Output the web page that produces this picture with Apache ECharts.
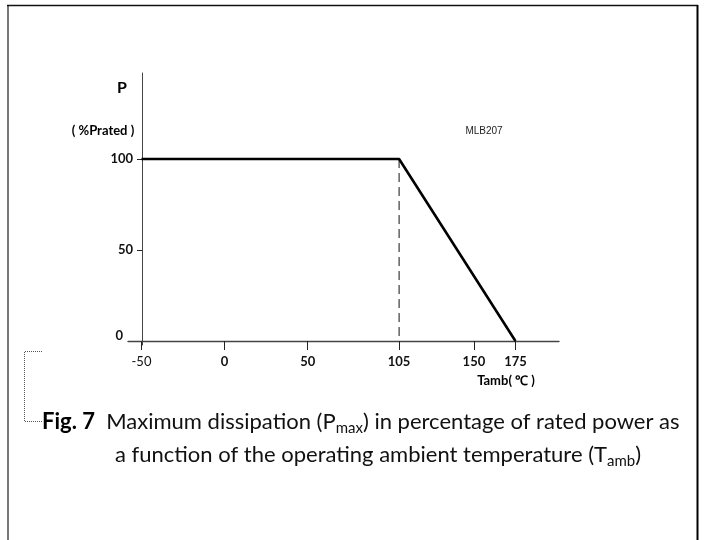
<!DOCTYPE html>
<html>
<head>
<meta charset="utf-8">
<script src="https://cdn.jsdelivr.net/npm/echarts@6/dist/echarts.min.js"></script>
<style>
html,body{margin:0;padding:0;background:#fff;}
#c{width:704px;height:540px;}
</style>
</head>
<body>
<div id="c"></div>
<script>
// ---- data ----
var temps = [-50, 105, 175];          // Tamb (°C)
var power = [100, 100, 0];            // P (% Prated)
var kneeTemp = 105;                   // dashed marker
var kneeLine = [100, 0];
var xTicks = [-50, 0, 50, 105, 150, 175];
var yTicks = [0, 50, 100];
var yTickMarks = [50, 100];

var curve = temps.map(function (t, i) { return [t, power[i]]; });
var dashed = kneeLine.map(function (p) { return [kneeTemp, p]; });

var chart = echarts.init(document.getElementById('c'), null, {renderer: 'canvas'});
var lblFont = 'Lato, "Open Sans", sans-serif';
var capFont = 'Lato, "Open Sans", sans-serif';

chart.setOption({
  animation: false,
  backgroundColor: '#fff',
  grid: {left: 128, width: 431, top: 73, height: 272, containLabel: false},
  xAxis: {
    type: 'value', min: -58.1, max: 201.2,
    splitLine: {show: false},
    axisLine: {onZero: true, lineStyle: {color: '#444', width: 1.3}},
    axisTick: {show: true, inside: false, length: 9, customValues: xTicks, lineStyle: {color: '#222', width: 1}},
    axisLabel: {
      customValues: xTicks, margin: 10,
      formatter: function (v) { return v === -50 ? '{n|-50}' : '{b|' + v + '}'; },
      rich: {
        n: {fontFamily: lblFont, fontSize: 13, fontWeight: 400, color: '#111'},
        b: {fontFamily: lblFont, fontSize: 13, fontWeight: 'bold', color: '#111'}
      }
    }
  },
  yAxis: {
    type: 'value', min: -2.2, max: 147.3, offset: -14,
    splitLine: {show: false},
    axisLine: {show: true, onZero: false, lineStyle: {color: '#444', width: 1}},
    axisTick: {show: true, length: 5, customValues: yTickMarks, lineStyle: {color: '#222', width: 1}},
    axisLabel: {
      customValues: yTicks, margin: 9,
      formatter: function (v) { return v === 0 ? '{z|0}' : '{b|' + v + '}'; },
      rich: {
        z: {fontFamily: lblFont, fontSize: 13, fontWeight: 'bold', color: '#111', padding: [0, 10, 10, 0]},
        b: {fontFamily: lblFont, fontSize: 13, fontWeight: 'bold', color: '#111'}
      }
    }
  },
  series: [
    {type: 'line', data: curve, showSymbol: false, symbol: 'none',
     lineStyle: {color: '#000', width: 2.6}, z: 5},
    {type: 'line', data: dashed, showSymbol: false, symbol: 'none',
     lineStyle: {color: '#111', width: 1, type: [9, 5]}, z: 4}
  ],
  graphic: [
    // page frame
    {type: 'line', shape: {x1: 8, y1: 5, x2: 8, y2: 540}, style: {stroke: '#777', lineWidth: 2}},
    {type: 'line', shape: {x1: 7, y1: 5.5, x2: 698, y2: 5.5}, style: {stroke: '#111', lineWidth: 1.5}},
    {type: 'line', shape: {x1: 697.5, y1: 5, x2: 697.5, y2: 540}, style: {stroke: '#000', lineWidth: 2}},
    // dotted bracket
    {type: 'polyline', shape: {points: [[42, 351.5], [24.5, 351.5], [24.5, 421.5], [42, 421.5]]},
     style: {stroke: '#555', lineWidth: 1, lineDash: [1, 1], fill: null}},
    // axis titles
    {type: 'text', x: 122, y: 88, style: {text: 'P', font: 'bold 16px ' + lblFont, fill: '#000', align: 'center', verticalAlign: 'middle'}},
    {type: 'text', x: 103, y: 131, style: {text: '( %Prated )', font: 'bold 13px ' + lblFont, fill: '#000', align: 'center', verticalAlign: 'middle'}},
    {type: 'text', x: 484, y: 131, style: {text: 'MLB207', font: '10px "Liberation Sans", Arial, sans-serif', fill: '#222', align: 'center', verticalAlign: 'middle'}},
    {type: 'text', x: 506, y: 381, style: {text: 'Tamb( \u2103 )', font: 'bold 13px ' + lblFont, fill: '#000', align: 'center', verticalAlign: 'middle'}},
    // caption
    {type: 'text', x: 42, y: 422, style: {
      text: '{b|Fig. 7}{n|  Maximum dissipation (P}{s|max}{n|) in percentage of rated power as}',
      verticalAlign: 'middle', align: 'left',
      rich: {
        b: {fontFamily: capFont, fontSize: 22, fontWeight: 'bold', fill: '#000', lineHeight: 28},
        n: {fontFamily: capFont, fontSize: 22, fill: '#111', lineHeight: 28},
        s: {fontFamily: capFont, fontSize: 15, fill: '#111', lineHeight: 15, verticalAlign: 'bottom'}
      }
    }},
    {type: 'text', x: 115, y: 455, style: {
      text: '{n|a function of the operating ambient temperature (T}{s|amb}{n|)}',
      verticalAlign: 'middle', align: 'left',
      rich: {
        n: {fontFamily: capFont, fontSize: 22, fill: '#111', lineHeight: 28},
        s: {fontFamily: capFont, fontSize: 15, fill: '#111', lineHeight: 15, verticalAlign: 'bottom'}
      }
    }}
  ]
});
</script>
</body>
</html>
